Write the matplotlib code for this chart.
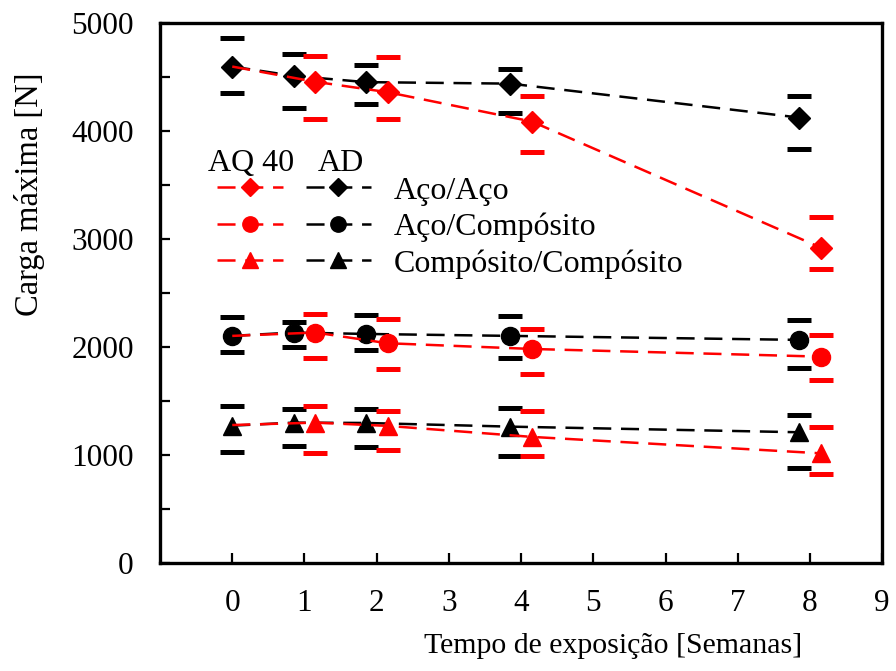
import matplotlib
matplotlib.use("Agg")
import matplotlib.pyplot as plt
import numpy as np
from matplotlib.ticker import MultipleLocator

plt.rcParams['font.family'] = ['Liberation Serif', 'DejaVu Serif']

# weeks (plotted with a small horizontal offset per condition)
x_ad = [0, 0.85, 1.85, 3.85, 7.85]
x_aq = [0, 1.15, 2.15, 4.15, 8.15]
xticks = [0, 1, 2, 3, 4, 5, 6, 7, 8, 9]

labels = ['Aço/Aço', 'Aço/Compósito', 'Compósito/Compósito']
markers = ['D', 'o', '^']

# AD (black) series: value, lower error, upper error
ad_val = [[4595, 4509, 4451, 4437, 4123],
          [2102, 2133, 2120, 2102, 2065],
          [1271, 1299, 1296, 1262, 1210]]
ad_lo = [[246, 296, 201, 268, 292],
         [146, 130, 148, 201, 262],
         [246, 213, 225, 268, 328]]
ad_hi = [[263, 201, 160, 137, 195],
         [173, 101, 173, 185, 185],
         [183, 124, 133, 176, 160]]

# AQ 40 (red) series
aq_val = [[4595, 4454, 4358, 4086, 2919],
          [2102, 2133, 2034, 1981, 1910],
          [1277, 1299, 1269, 1167, 1015]]
aq_lo = [[246, 343, 247, 278, 194],
         [146, 238, 241, 234, 216],
         [246, 278, 223, 173, 194]]
aq_hi = [[263, 240, 321, 241, 287],
         [173, 176, 222, 186, 201],
         [183, 155, 138, 240, 247]]

FS = 22.5
fig = plt.figure(figsize=(8.96, 6.71), dpi=100)
ax = fig.add_axes([0.1786, 0.161, 0.806, 0.805])

msz = {'D': 11, 'o': 13, '^': 13.5}
lw = 1.8
dash = (0, (13 / lw, 7 / lw))

red_handles, black_handles = [], []
for i in range(3):
    # black (AD)
    eb = ax.errorbar(x_ad, ad_val[i], yerr=[ad_lo[i], ad_hi[i]], fmt='none',
                     ecolor='black', capsize=8.3, capthick=3.6, zorder=3)
    for c in eb[2]:
        c.set_visible(False)
    ax.plot(x_ad, ad_val[i], color='black', lw=lw, linestyle=dash, zorder=2)
    ax.plot(x_ad, ad_val[i], linestyle='none', marker=markers[i],
            ms=msz[markers[i]], color='black', zorder=3)
    # red (AQ 40)
    eb = ax.errorbar(x_aq[1:], aq_val[i][1:],
                     yerr=[aq_lo[i][1:], aq_hi[i][1:]], fmt='none',
                     ecolor='#ff0000', capsize=8.3, capthick=3.6, zorder=4)
    for c in eb[2]:
        c.set_visible(False)
    ax.plot(x_aq[1:], aq_val[i][1:], linestyle='none', marker=markers[i],
            ms=msz[markers[i]], color='#ff0000', zorder=4)
    ax.plot(x_aq, aq_val[i], color='#ff0000', lw=lw, linestyle=dash, zorder=5)

    red_handles.append(plt.Line2D([], [], color='#ff0000', lw=lw, linestyle=dash,
                                  marker=markers[i], ms=msz[markers[i]] * 0.85))
    black_handles.append(plt.Line2D([], [], color='black', lw=lw, linestyle=dash,
                                    marker=markers[i], ms=msz[markers[i]] * 0.85))

ax.set_xlim(-1, 9)
ax.set_ylim(0, 5000)
ax.set_xticks(xticks)
ax.yaxis.set_major_locator(MultipleLocator(1000))
ax.yaxis.set_minor_locator(MultipleLocator(500))
ax.tick_params(axis='both', which='both', direction='in', length=7, width=1.6,
               labelsize=FS)
ax.tick_params(axis='x', pad=19)
ax.tick_params(axis='y', pad=19)
ax.tick_params(axis='x', which='minor', bottom=False)
for s in ax.spines.values():
    s.set_linewidth(2.4)

ax.set_xlabel('Tempo de exposição [Semanas]', fontsize=21.5)
ax.xaxis.set_label_coords(0.628, -0.13)
ax.set_ylabel('Carga máxima [N]', fontsize=23.5)
ax.yaxis.set_label_coords(-0.159, 0.683)

LFS = 23
leg = ax.legend(red_handles + black_handles, ['', '', ''] + labels, ncol=2,
                loc='upper left', bbox_to_anchor=(0.079, 0.716), frameon=False,
                fontsize=LFS, handlelength=2.05, handletextpad=0.72,
                columnspacing=0.0, borderpad=0, borderaxespad=0,
                labelspacing=0.22)
ax.text(0.126, 0.713, 'AQ 40', transform=ax.transAxes, fontsize=LFS,
        ha='center', va='bottom')
ax.text(0.25, 0.713, 'AD', transform=ax.transAxes, fontsize=LFS,
        ha='center', va='bottom')

fig.savefig('out.png', dpi=100)
